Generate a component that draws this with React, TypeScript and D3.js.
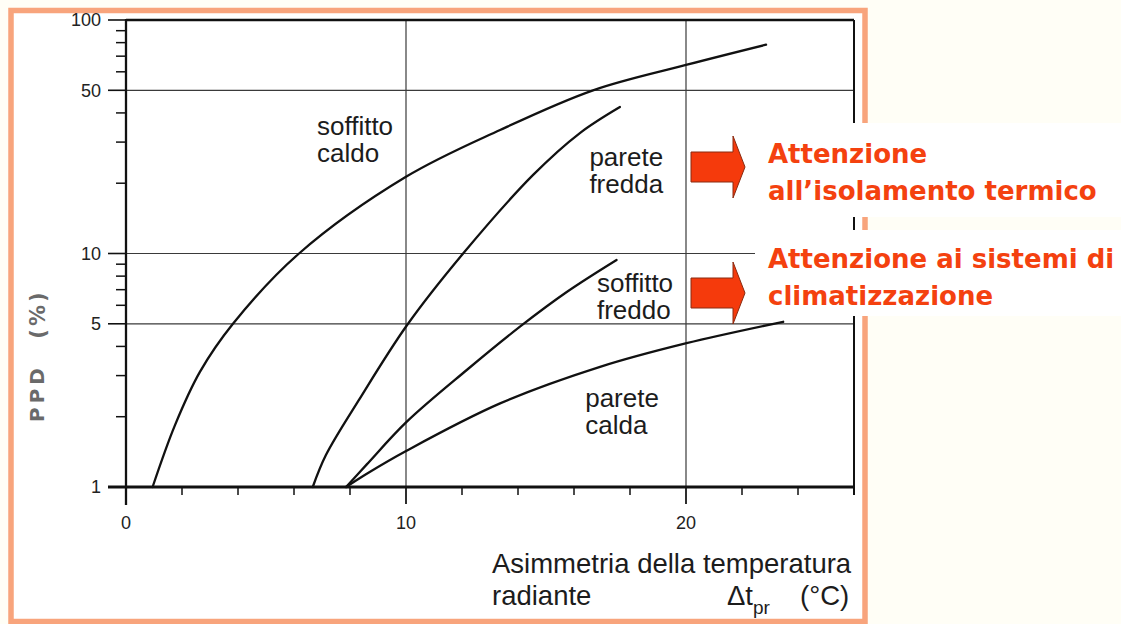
import React from "react";
import * as d3 from "d3";

// ---- data ----
const soffittoCaldoT = [0.95, 1.75, 2.64, 3.82, 6.18, 10.0, 13.36, 16.68, 20.0, 22.86];
const soffittoCaldoP = [1.0, 1.84, 3.11, 5.0, 10.0, 21.3, 33.8, 50.0, 64.2, 78.4];

const pareteFreddaT = [6.67, 7.14, 8.32, 10.04, 12.04, 14.54, 16.21, 17.64];
const pareteFreddaP = [1.0, 1.37, 2.36, 4.94, 10.0, 21.7, 32.8, 42.4];

const soffittoFreddoT = [7.86, 8.6, 10.02, 12.17, 14.07, 15.74, 17.52];
const soffittoFreddoP = [1.0, 1.25, 1.9, 3.17, 4.86, 6.84, 9.38];

const pareteCaldaT = [7.86, 8.6, 10.02, 13.36, 16.93, 20.02, 23.47];
const pareteCaldaP = [1.0, 1.14, 1.43, 2.28, 3.27, 4.13, 5.1];

const xTickLabels = [0, 10, 20];
const xMinorTicks = [2, 4, 6, 8, 12, 14, 16, 18, 22, 24, 26];
const yTickLabels = [1, 5, 10, 50, 100];
const yMinorTicks = [2, 3, 4, 6, 7, 8, 9, 20, 30, 40, 60, 70, 80, 90];
const yGrid = [5, 10, 50];
const xGrid = [10, 20];

const curveLabels = [
  { lines: ["soffitto", "caldo"], t: 6.82, p: 32.2 },
  { lines: ["parete", "fredda"], t: 16.55, p: 23.7 },
  { lines: ["soffitto", "freddo"], t: 16.82, p: 6.86 },
  { lines: ["parete", "calda"], t: 16.4, p: 2.21 },
];

const notes = [
  ["Attenzione", "all\u2019isolamento termico"],
  ["Attenzione ai sistemi di", "climatizzazione"],
];

const series = [
  { t: soffittoCaldoT, p: soffittoCaldoP },
  { t: pareteFreddaT, p: pareteFreddaP },
  { t: soffittoFreddoT, p: soffittoFreddoP },
  { t: pareteCaldaT, p: pareteCaldaP },
];

export default function App() {
  const W = 1121;
  const H = 624;
  const x = d3.scaleLinear().domain([0, 26]).range([126, 854]);
  const y = d3.scaleLog().domain([1, 100]).range([487, 20]);
  const line = d3
    .line<[number, number]>()
    .x((d) => x(d[0]))
    .y((d) => y(d[1]))
    .curve(d3.curveCatmullRom.alpha(0.5));

  const red = "#f4410f";
  const arrowFill = "#f53a0c";
  const ink = "#1c1c1c";
  const sans = "'Liberation Sans', Arial, Helvetica, sans-serif";

  const arrow = (cy: number) => {
    const x0 = 691, x1 = 733, tip = 745;
    const bh = 15, hh = 31;
    return `M${x0},${cy - bh} L${x1},${cy - bh} L${x1},${cy - hh} L${tip},${cy} L${x1},${cy + hh} L${x1},${cy + bh} L${x0},${cy + bh} Z`;
  };

  return (
    <svg
      width={W}
      height={H}
      style={{ position: "absolute", left: 0, top: 0, display: "block" }}
    >
      <rect x={0} y={0} width={W} height={H} fill="#fffef6" />
      <rect x={11} y={10.5} width={854} height={611} fill="#ffffff" stroke="#f8a47c" strokeWidth={5.5} />

      {/* grid */}
      {yGrid.map((v) => (
        <line key={"yg" + v} x1={x(0)} x2={x(26)} y1={y(v)} y2={y(v)} stroke="#3a3a3a" strokeWidth={1.2} />
      ))}
      {xGrid.map((v) => (
        <line key={"xg" + v} x1={x(v)} x2={x(v)} y1={y(100)} y2={y(1) + 17} stroke="#3a3a3a" strokeWidth={1.2} />
      ))}

      {/* frame */}
      <line x1={x(0)} x2={x(26)} y1={y(100)} y2={y(100)} stroke="#111" strokeWidth={2.5} />
      <line x1={x(26)} x2={x(26)} y1={y(100)} y2={y(1) + 8} stroke="#111" strokeWidth={2} />
      <line x1={108} x2={x(26)} y1={y(1)} y2={y(1)} stroke="#111" strokeWidth={2.8} />
      <line x1={x(0)} x2={x(0)} y1={y(100) - 1} y2={y(1) + 18} stroke="#111" strokeWidth={2.3} />

      {/* y ticks */}
      {yTickLabels.map((v) => (
        <g key={"yt" + v}>
          <line x1={108} x2={x(0)} y1={y(v)} y2={y(v)} stroke="#111" strokeWidth={1.6} />
          <text x={101} y={y(v)} dy="0.36em" textAnchor="end" fontFamily={sans} fontSize={18} fill="#222">
            {v}
          </text>
        </g>
      ))}
      {yMinorTicks.map((v) => (
        <line key={"ym" + v} x1={116} x2={x(0)} y1={y(v)} y2={y(v)} stroke="#111" strokeWidth={1.5} />
      ))}

      {/* x ticks */}
      {xMinorTicks.map((v) => (
        <line key={"xm" + v} x1={x(v)} x2={x(v)} y1={y(1)} y2={y(1) + 8} stroke="#111" strokeWidth={1.5} />
      ))}
      {xTickLabels.map((v) => (
        <g key={"xt" + v}>
          <line x1={x(v)} x2={x(v)} y1={y(1)} y2={y(1) + 17} stroke="#111" strokeWidth={1.5} />
          <text x={x(v)} y={529} textAnchor="middle" fontFamily={sans} fontSize={18} fill="#222">
            {v}
          </text>
        </g>
      ))}

      {/* curves */}
      {series.map((s, i) => (
        <path
          key={"s" + i}
          d={line(s.t.map((t, j) => [t, s.p[j]] as [number, number])) || ""}
          fill="none"
          stroke="#111"
          strokeWidth={2.3}
          strokeLinecap="round"
        />
      ))}

      {/* curve labels */}
      {curveLabels.map((l, i) => (
        <text key={"cl" + i} fontFamily={sans} fontSize={26} fill={ink}>
          {l.lines.map((s, j) => (
            <tspan key={j} x={x(l.t)} y={y(l.p) + j * 27.5}>
              {s}
            </tspan>
          ))}
        </text>
      ))}

      {/* axis titles */}
      <text fontFamily={sans} fontSize={27.5} fill={ink}>
        <tspan x={492} y={573}>Asimmetria della temperatura</tspan>
        <tspan x={492} y={605}>radiante</tspan>
      </text>
      <text fontFamily={sans} fontSize={27.5} fill={ink} x={727} y={605}>
        {"\u0394t"}
        <tspan fontSize={19} dy={9}>pr</tspan>
      </text>
      <text fontFamily={sans} fontSize={27.5} fill={ink} x={800} y={605}>
        (°C)
      </text>

      <text
        transform="translate(44,393) rotate(-90)"
        textAnchor="middle"
        fontFamily="'DejaVu Sans', sans-serif"
        fontWeight="bold"
        fontSize={20}
        letterSpacing={4}
        fill="#6a6a6a"
      >
        PPD
      </text>
      <text
        transform="translate(45,314) rotate(-90)"
        textAnchor="middle"
        fontFamily="'DejaVu Sans', sans-serif"
        fontWeight="bold"
        fontSize={21}
        letterSpacing={3}
        fill="#6a6a6a"
      >
        (%)
      </text>

      {/* annotation boxes */}
      <rect x={755} y={123} width={W - 755} height={94} fill="#ffffff" />
      <rect x={755} y={230} width={W - 755} height={86} fill="#ffffff" />

      <path d={arrow(167)} fill={arrowFill} stroke="#8a2a10" strokeWidth={1} />
      <path d={arrow(293)} fill={arrowFill} stroke="#8a2a10" strokeWidth={1} />

      {notes.map((n, i) => (
        <text key={"n" + i} fontFamily="'DejaVu Sans', sans-serif" fontWeight="bold" fontSize={26} fill={red}>
          {n.map((s, j) => (
            <tspan key={j} x={768} y={(i === 0 ? 163 : 268) + j * 37}>
              {s}
            </tspan>
          ))}
        </text>
      ))}
    </svg>
  );
}
